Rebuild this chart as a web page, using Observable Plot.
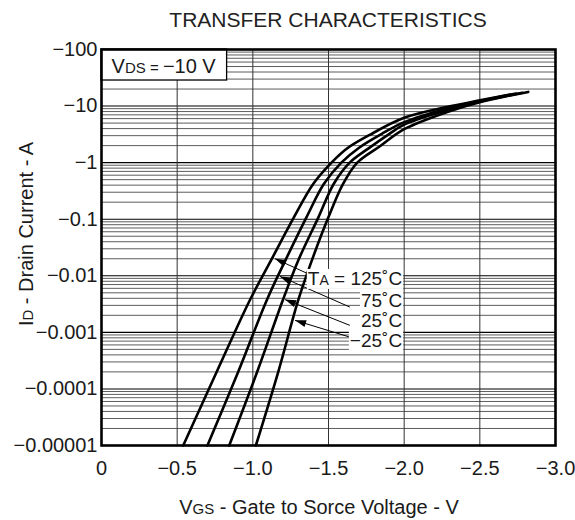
<!DOCTYPE html>
<html><head><meta charset="utf-8">
<script src="https://cdn.jsdelivr.net/npm/d3@7"></script>
<script src="https://cdn.jsdelivr.net/npm/@observablehq/plot@0.6"></script>
<style>
body{margin:0;background:#fff;font-family:"Liberation Sans",Arial,sans-serif;}
#title{height:38px;box-sizing:border-box;padding:9px 20px 0 101px;text-align:center;font-size:21px;line-height:22px;color:#222;white-space:nowrap;}
</style></head><body>
<div id="title">TRANSFER CHARACTERISTICS</div>
<div id="chart"></div>
<script>
// ---- data (VGS in volts, ID in amps; both negative as on the datasheet) ----
const temps = ["125", "75", "25", "-25"];
const vgs125 = [-0.54, -0.763, -0.98, -1.12, -1.272, -1.40, -1.52, -1.62, -1.773, -2.0, -2.28, -2.5, -2.70];
const id125  = [-1e-5, -2.05e-4, -3.7e-3, -0.0187, -0.109, -0.424, -1.0, -1.76, -3.1, -6.2, -9.6, -12.6, -16.0];
const vgs75  = [-0.70, -0.905, -1.092, -1.215, -1.355, -1.47, -1.585, -1.70, -1.85, -2.0, -2.28, -2.5, -2.74];
const id75   = [-1e-5, -2.05e-4, -3.7e-3, -0.0187, -0.109, -0.424, -1.0, -1.82, -3.2, -5.2, -9.0, -12.3, -16.6];
const vgs25  = [-0.844, -1.03, -1.198, -1.30, -1.434, -1.535, -1.64, -1.76, -1.90, -2.0, -2.28, -2.5, -2.78];
const id25   = [-1e-5, -2.05e-4, -3.7e-3, -0.0187, -0.109, -0.424, -1.0, -1.75, -3.2, -4.7, -8.4, -12.0, -17.2];
const vgsM25 = [-1.02, -1.169, -1.30, -1.39, -1.50, -1.597, -1.69, -1.84, -2.0, -2.28, -2.5, -2.82];
const idM25  = [-1e-5, -2.05e-4, -3.7e-3, -0.0187, -0.109, -0.424, -1.0, -1.95, -3.9, -7.8, -11.7, -17.8];

const xTicks = [0, -0.5, -1, -1.5, -2, -2.5, -3];
const xTickLabels = ["0", "−0.5", "−1.0", "−1.5", "−2.0", "−2.5", "−3.0"];
const yTicks = [-100, -10, -1, -0.1, -0.01, -0.001, -0.0001, -0.00001];
const yTickLabels = ["−100", "−10", "−1", "−0.1", "−0.01", "−0.001", "−0.0001", "−0.00001"];

// annotation anchors (data units)
const labelTexts = [["T", "A", " = 125˚C"], ["", "", "75˚C"], ["", "", "25˚C"], ["", "", "−25˚C"]];
const labelV = [-1.99, -1.99, -1.99, -1.99];
const labelI = [-0.00676, -0.0028, -0.00124, -0.00055];
const arrowStartV = [-1.389, -1.641, -1.641, -1.696];
const arrowStartI = [-0.01016, -0.0028, -0.00133, -0.000743];
const arrowTipV = [-1.147, -1.18, -1.213, -1.279];
const arrowTipI = [-0.02, -0.00975, -0.00379, -0.00163];
const vdsBox = {v1: 0, v2: -0.83, i1: -100, i2: -28.3};
const vdsTextAt = {v: -0.07, i: -37.2};

// ---- build tables ----
const series = [[vgs125, id125], [vgs75, id75], [vgs25, id25], [vgsM25, idM25]];
const rows = series.flatMap(([vs, is], k) => vs.map((v, j) => ({temp: temps[k], vgs: v, id: is[j]})));
const arrows = arrowStartV.map((v, k) => ({x1: v, y1: -arrowStartI[k], x2: arrowTipV[k], y2: -arrowTipI[k]}));
const decades = yTicks.map(Math.abs);
const minor = [];
for (const d of decades.slice(1)) for (let m = 2; m <= 9; m++) minor.push(+(d * m).toPrecision(3));

const W = 575, H = 482, mL = 101, mR = 20, mT = 11, mB = 75;
const FONT = "'Liberation Sans', Arial, sans-serif";

function makePlot(extra) {
  return Plot.plot({
    width: W, height: H, marginLeft: mL, marginRight: mR, marginTop: mT, marginBottom: mB,
    style: {fontFamily: FONT, fontSize: "20px", color: "#1a1a1a", background: "#fff"},
    x: {domain: [0, -3], ticks: xTicks, tickFormat: d => xTickLabels[xTicks.indexOf(d)], tickSize: 0, tickPadding: 15, label: null},
    y: {type: "log", domain: [1e-5, 100], ticks: decades, tickFormat: d => yTickLabels[decades.indexOf(d)], tickSize: 0, tickPadding: 4, label: null},
    marks: [
      Plot.ruleY(minor, {stroke: "#333", strokeWidth: 0.8}),
      Plot.ruleY(decades, {stroke: "#000", strokeWidth: 1.1}),
      Plot.ruleX(xTicks, {stroke: "#333", strokeWidth: 1}),
      Plot.rect([vdsBox], {x1: "v1", x2: "v2", y1: d => -d.i1, y2: d => -d.i2, fill: "white", stroke: "black", strokeWidth: 1.3}),
      Plot.line(rows, {x: "vgs", y: d => -d.id, z: "temp", stroke: "black", strokeWidth: 2.6, curve: "catmull-rom"}),
      Plot.link(arrows, {x1: "x1", y1: "y1", x2: "x2", y2: "y2", stroke: "black", strokeWidth: 1}),
      ...extra,
      Plot.frame({stroke: "black", strokeWidth: 2.6})
    ]
  });
}

// first pass to read the scales
const probe = makePlot([]);
const sx = probe.scale("x"), sy = probe.scale("y");
const heads = arrows.map(a => {
  const dx = sx.apply(a.x2) - sx.apply(a.x1), dy = sy.apply(a.y2) - sy.apply(a.y1);
  return {x: a.x2, y: a.y2, angle: Math.atan2(dx, -dy) * 180 / Math.PI};
});
const headSymbol = {draw(ctx) { ctx.moveTo(0, 0); ctx.lineTo(-3.6, 11); ctx.lineTo(3.6, 11); ctx.closePath(); }};

const svg = makePlot([
  Plot.dot(heads, {x: "x", y: "y", rotate: "angle", symbol: headSymbol, fill: "black", stroke: "none", r: 4})
]);
document.getElementById("chart").appendChild(svg);

const root = d3.select(svg);
function richText(x, y, parts, anchor, rotate) {
  const t = root.append("text").attr("x", x).attr("y", y).attr("text-anchor", anchor)
    .attr("fill", "#1a1a1a").style("font-family", FONT);
  if (rotate) t.attr("transform", `rotate(-90 ${x} ${y})`);
  for (const [s, size] of parts) if (s) t.append("tspan").attr("font-size", size).text(s);
  return t;
}

// Vds box text
richText(sx.apply(vdsTextAt.v), sy.apply(-vdsTextAt.i), [["V", 20], ["DS", 15], [" = ", 15], ["−10 V", 20]], "start");

// temperature labels with white backgrounds
labelTexts.forEach((p, k) => {
  const t = richText(sx.apply(labelV[k]), sy.apply(-labelI[k]), [[p[0], 19], [p[1], 14], [p[2], 19]], "end");
  const b = t.node().getBBox();
  root.insert("rect", () => t.node()).attr("x", b.x - 1).attr("y", b.y + 1).attr("width", b.width + 2).attr("height", b.height - 1).attr("fill", "white");
});

// axis titles
richText(26, 196, [["I", 20], ["D", 15], [" - Drain Current - A", 20]], "middle", true).attr("dy", "0.35em");
richText(319, 476, [["V", 20], ["GS", 15], [" - Gate to Sorce Voltage - V", 20]], "middle");
</script>
</body></html>
